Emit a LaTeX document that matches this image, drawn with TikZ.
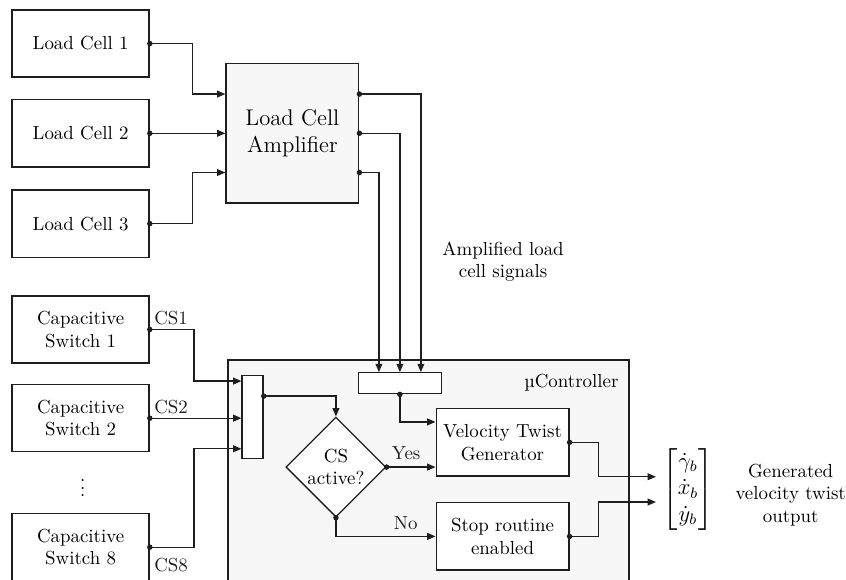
\documentclass[tikz,border=0pt]{standalone}
\usepackage{amsmath}
\usepackage{fontspec}
\usetikzlibrary{shapes.geometric, arrows.meta, positioning}
\definecolor{mydark}{RGB}{30,30,30}
\definecolor{myfill}{RGB}{247,247,247}
\tikzset{
  block/.style={rectangle, draw=mydark, fill=white, align=center,
    minimum width=2.55cm, minimum height=1.25cm, line width=0.7pt, inner sep=2pt},
  ampblock/.style={rectangle, draw=mydark, fill=myfill, align=center,
    minimum width=2.47cm, minimum height=2.59cm, font=\large, line width=0.7pt},
  ctrlbox/.style={rectangle, draw=mydark, fill=myfill,
    minimum width=7.46cm, minimum height=4.6cm, line width=0.7pt},
  muxbox/.style={rectangle, draw=mydark, fill=white, inner sep=0pt, line width=0.7pt},
  decision/.style={diamond, draw=mydark, fill=white, align=center, aspect=1,
    minimum width=1.86cm, minimum height=1.86cm, inner sep=0pt, line width=0.7pt},
  arrow/.style={-{Triangle[length=4.4pt, width=3.6pt]}, line width=0.7pt, color=mydark},
  line/.style={line width=0.7pt, color=mydark}
}

\begin{document}
\begin{tikzpicture}
  \useasboundingbox (0,0) rectangle (15.74,-10.79);
  \clip (0,0) rectangle (15.74,-10.79);

  % load cells and amplifier
  \node[block] (lc1) at (1.50,-0.81) {Load Cell 1};
  \node[block] (lc2) at (1.50,-2.48) {Load Cell 2};
  \node[block] (lc3) at (1.50,-4.16) {Load Cell 3};
  \node[ampblock] (amp) at (5.44,-2.48) {Load Cell\\Amplifier};

  % capacitive switches
  \node[block] (cs1) at (1.50,-6.13) {Capacitive\\Switch 1};
  \node[block] (cs2) at (1.50,-7.78) {Capacitive\\Switch 2};
  \node[block] (cs8) at (1.50,-10.18) {Capacitive\\Switch 8};
  \node (csdots) at (1.54,-8.98) {$\vdots$};

  % microcontroller
  \node[ctrlbox] (ctrl) at (7.97,-9.0) {};
  \node[anchor=north east, inner sep=0pt] (ctrllabel) at ([xshift=-0.2cm, yshift=-0.27cm]ctrl.north east) {µController};
  \node[muxbox, minimum width=0.39cm, minimum height=1.54cm] (muxl) at (4.70,-7.76) {};
  \node[muxbox, minimum width=1.54cm, minimum height=0.39cm] (muxt) at (7.44,-7.13) {};
  \node[decision] (dec) at (6.25,-8.69) {CS\\active?};
  \node[block, minimum width=2.47cm] (vtg) at (9.35,-8.23) {Velocity Twist\\Generator};
  \node[block, minimum width=2.47cm] (stop) at (9.35,-9.98) {Stop routine\\enabled};

  % output
  \node[font=\large] (twist) at (12.80,-9.11) {$\begin{bmatrix} \dot{\gamma}_b \\ \dot{x}_b \\ \dot{y}_b \end{bmatrix}$};
  \node[align=center] (twistlabel) at (14.71,-9.21) {Generated\\velocity twist\\output};
  \node[align=center] (amplabel) at (9.36,-4.87) {Amplified load\\cell signals};

  % ports
  \coordinate (amp-o1) at ([yshift=0.73cm]amp.east);
  \coordinate (amp-o3) at ([yshift=-0.73cm]amp.east);
  \coordinate (muxl-o) at ([yshift=0.39cm]muxl.east);

  % connectors
  \draw[arrow] (lc1.east) -- ++(0.8,0) |- ([yshift=0.73cm]amp.west);
  \draw[arrow] (lc2.east) -- (amp.west);
  \draw[arrow] (lc3.east) -- ++(0.8,0) |- ([yshift=-0.73cm]amp.west);

  \draw[arrow] (amp-o1) -| ([xshift=0.39cm]muxt.north);
  \draw[arrow] (amp.east) -| (muxt.north);
  \draw[arrow] (amp-o3) -| ([xshift=-0.39cm]muxt.north);

  \draw[arrow] (cs1.east) node[above right, inner sep=2pt] (cs1lbl) {CS1} -- ++(0.82,0) |- ([yshift=0.67cm]muxl.west);
  \draw[arrow] (cs2.east) node[above right, inner sep=2pt] (cs2lbl) {CS2} -- (cs2.east -| muxl.west);
  \draw[arrow] (cs8.east) node[below right, inner sep=2pt, yshift=-0.12cm] (cs8lbl) {CS8} -- ++(0.82,0) |- ([yshift=-0.59cm]muxl.west);

  \draw[arrow] (muxl-o) -| (dec.north);
  \draw[arrow] (dec.east) -- (dec.east -| vtg.west) node[pos=0.4, above] (yeslbl) {Yes};
  \draw[arrow] (dec.south) |- (stop.west) node[pos=0.85, above] (nolbl) {No};
  \draw[arrow] (muxt.south) |- ([yshift=0.38cm]vtg.west);

  \draw[arrow] (vtg.east) -- ++(0.54,0) |- ([yshift=0.24cm]twist.west);
  \draw[arrow] (stop.east) -- ++(0.54,0) |- ([yshift=-0.23cm]twist.west);

  % dots
  \foreach \p in {lc1.east, lc2.east, lc3.east, amp-o1, amp.east, amp-o3,
                  cs1.east, cs2.east, cs8.east, muxl-o, muxt.south,
                  dec.east, dec.south, vtg.east, stop.east}
    \fill[mydark] (\p) circle (1.45pt);
\end{tikzpicture}
\end{document}
